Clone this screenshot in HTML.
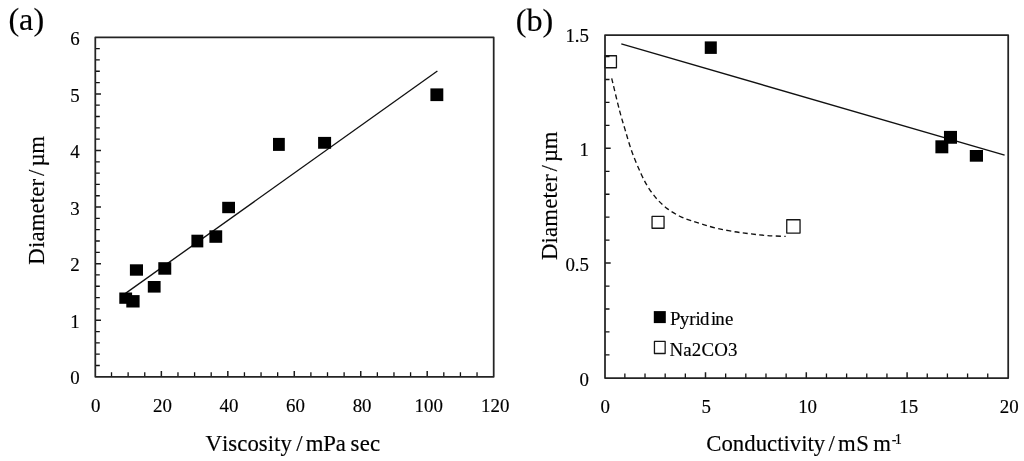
<!DOCTYPE html>
<html><head><meta charset="utf-8"><title>Figure</title>
<style>
html,body{margin:0;padding:0;background:#fff;}
body{width:1024px;height:461px;overflow:hidden;font-family:"Liberation Serif",serif;}
svg{display:block;will-change:transform;filter:grayscale(1);}
text{font-family:"Liberation Serif",serif;fill:#000;stroke:#000;stroke-width:0.16px;font-kerning:none;}
.tk{font-size:18.9px;}
.ax{font-size:22.8px;}
.pl{font-size:32.2px;}
.lg{font-size:18.9px;}
.fr{stroke:#242424;stroke-width:1.75;fill:none;stroke-linejoin:round;}
.t{stroke:#111;stroke-width:1.3;}
.T{stroke:#1c1c1c;stroke-width:1.5;}
.ln{stroke:#111;stroke-width:1.35;fill:none;}
.m{fill:#000;}
.o{fill:#fff;stroke:#161616;stroke-width:1.3;stroke-linejoin:round;}
</style></head><body>
<svg width="1024" height="461" viewBox="0 0 1024 461">
<rect x="0" y="0" width="1024" height="461" fill="#fff"/>

<!-- chart a -->
<text class="pl" x="8.4" y="30.4">(a)</text>
<path class="t" d="M111.52 376.80V372.20M128.13 376.80V372.20M144.75 376.80V372.20M177.97 376.80V372.20M194.59 376.80V372.20M211.20 376.80V372.20M244.44 376.80V372.20M261.05 376.80V372.20M277.66 376.80V372.20M310.89 376.80V372.20M327.51 376.80V372.20M344.12 376.80V372.20M377.36 376.80V372.20M393.97 376.80V372.20M410.58 376.80V372.20M443.81 376.80V372.20M460.43 376.80V372.20M477.04 376.80V372.20M95.30 365.48H99.80M95.30 354.17H99.80M95.30 342.85H99.80M95.30 331.53H99.80M95.30 308.90H99.80M95.30 297.58H99.80M95.30 286.27H99.80M95.30 274.95H99.80M95.30 252.32H99.80M95.30 241.00H99.80M95.30 229.68H99.80M95.30 218.37H99.80M95.30 195.73H99.80M95.30 184.42H99.80M95.30 173.10H99.80M95.30 161.78H99.80M95.30 139.15H99.80M95.30 127.83H99.80M95.30 116.52H99.80M95.30 105.20H99.80M95.30 82.57H99.80M95.30 71.25H99.80M95.30 59.93H99.80M95.30 48.62H99.80"/>
<path class="T" d="M161.36 376.80V371.00M227.82 376.80V371.00M294.28 376.80V371.00M360.74 376.80V371.00M427.20 376.80V371.00M95.30 320.22H101.00M95.30 263.63H101.00M95.30 207.05H101.00M95.30 150.47H101.00M95.30 93.88H101.00"/>
<rect class="fr" x="95.3" y="37.3" width="398.40" height="339.50"/>
<text class="tk" x="95.8" y="411.8" text-anchor="middle">0</text>
<text class="tk" x="162.5" y="411.8" text-anchor="middle">20</text>
<text class="tk" x="228.9" y="411.8" text-anchor="middle">40</text>
<text class="tk" x="295.4" y="411.8" text-anchor="middle">60</text>
<text class="tk" x="362.1" y="411.8" text-anchor="middle">80</text>
<text class="tk" x="428.7" y="411.8" text-anchor="middle">100</text>
<text class="tk" x="495.2" y="411.8" text-anchor="middle">120</text>
<text class="tk" x="79.6" y="384.4" text-anchor="end">0</text>
<text class="tk" x="79.6" y="327.8" text-anchor="end">1</text>
<text class="tk" x="79.6" y="271.2" text-anchor="end">2</text>
<text class="tk" x="79.6" y="214.7" text-anchor="end">3</text>
<text class="tk" x="79.6" y="158.1" text-anchor="end">4</text>
<text class="tk" x="79.6" y="101.5" text-anchor="end">5</text>
<text class="tk" x="79.6" y="44.9" text-anchor="end">6</text>
<text class="ax" transform="translate(0 450.8) scale(1 1.045)"><tspan x="205.54" letter-spacing="0.026">Viscosity</tspan><tspan x="296.25" letter-spacing="0.000">/</tspan><tspan x="305.82" letter-spacing="-0.222">mPa</tspan><tspan x="350.56" letter-spacing="0.212">sec</tspan></text>
<text class="ax" transform="translate(43.75 264.0) rotate(-90)"><tspan x="-0.66" letter-spacing="0.134">Diameter</tspan><tspan x="88.00" letter-spacing="0.000">/</tspan><tspan x="97.47" letter-spacing="-0.380">µm</tspan></text>
<path class="ln" d="M125.5 293.4L437.4 71"/>
<rect class="m" x="119.30" y="292.50" width="12.80" height="11.30"/>
<rect class="m" x="126.30" y="295.10" width="13.30" height="12.40"/>
<rect class="m" x="129.90" y="264.30" width="13.10" height="11.40"/>
<rect class="m" x="147.80" y="281.00" width="12.80" height="11.60"/>
<rect class="m" x="158.30" y="262.20" width="12.95" height="12.50"/>
<rect class="m" x="191.40" y="234.70" width="11.90" height="12.70"/>
<rect class="m" x="209.40" y="230.30" width="12.80" height="12.50"/>
<rect class="m" x="222.20" y="201.80" width="12.80" height="11.40"/>
<rect class="m" x="273.00" y="137.90" width="11.80" height="13.00"/>
<rect class="m" x="318.10" y="136.90" width="13.00" height="11.85"/>
<rect class="m" x="430.40" y="88.40" width="12.90" height="12.70"/>
<!-- chart b -->
<text class="pl" x="515.7" y="31.2">(b)</text>
<path class="ln" stroke-dasharray="5 3.3" d="M611.70 78.30C612.98 83.58 617.18 101.48 619.40 110.00C621.62 118.52 622.92 122.45 625.00 129.40C627.08 136.35 629.25 144.35 631.90 151.70C634.55 159.05 638.13 167.48 640.90 173.50C643.67 179.52 645.73 183.45 648.50 187.80C651.27 192.15 654.38 196.13 657.50 199.60C660.62 203.07 663.50 205.82 667.20 208.60C670.90 211.38 675.73 214.25 679.70 216.25C683.67 218.25 687.03 219.21 691.00 220.60C694.97 221.99 699.03 223.28 703.50 224.60C707.97 225.92 712.65 227.32 717.80 228.50C722.95 229.68 728.85 230.80 734.40 231.70C739.95 232.60 745.53 233.25 751.10 233.90C756.67 234.55 762.03 235.18 767.80 235.60C773.57 236.02 782.72 236.27 785.70 236.40"/>
<path class="ln" d="M621.3 43.9L1004.6 155.1"/>
<rect class="o" x="604.95" y="55.75" width="11.50" height="12.00"/>
<rect class="o" x="652.05" y="216.40" width="12.00" height="11.85"/>
<rect class="o" x="786.75" y="219.75" width="13.30" height="13.30"/>
<rect class="m" x="704.75" y="41.40" width="12.05" height="12.50"/>
<rect class="m" x="943.96" y="130.90" width="13.04" height="12.85"/>
<rect class="m" x="935.40" y="140.30" width="12.90" height="13.00"/>
<rect class="m" x="969.80" y="150.00" width="13.20" height="11.70"/>
<path class="t" d="M624.86 378.00V373.40M645.02 378.00V373.40M665.18 378.00V373.40M685.34 378.00V373.40M725.66 378.00V373.40M745.82 378.00V373.40M765.98 378.00V373.40M786.14 378.00V373.40M826.46 378.00V373.40M846.62 378.00V373.40M866.78 378.00V373.40M886.94 378.00V373.40M927.26 378.00V373.40M947.42 378.00V373.40M967.58 378.00V373.40M987.74 378.00V373.40M605.00 354.90H609.50M605.00 331.95H609.50M605.00 309.00H609.50M605.00 286.05H609.50M605.00 240.15H609.50M605.00 217.20H609.50M605.00 194.25H609.50M605.00 171.30H609.50M605.00 125.40H609.50M605.00 102.45H609.50M605.00 79.50H609.50M605.00 56.55H609.50"/>
<path class="T" d="M705.50 378.00V372.20M806.30 378.00V372.20M907.10 378.00V372.20M605.00 263.10H610.70M605.00 148.35H610.70"/>
<rect class="fr" x="605.0" y="35.0" width="403.20" height="343.00"/>
<text class="tk" x="605.2" y="413.3" text-anchor="middle">0</text>
<text class="tk" x="706.2" y="413.3" text-anchor="middle">5</text>
<text class="tk" x="807.6" y="413.3" text-anchor="middle">10</text>
<text class="tk" x="908.7" y="413.3" text-anchor="middle">15</text>
<text class="tk" x="1009.3" y="413.3" text-anchor="middle">20</text>
<text class="tk" x="589" y="386.0" text-anchor="end">0</text>
<text class="tk" x="589" y="270.8" text-anchor="end">0.5</text>
<text class="tk" x="589" y="155.9" text-anchor="end">1</text>
<text class="tk" x="589" y="41.9" text-anchor="end">1.5</text>
<text class="ax" transform="translate(0 450.8) scale(1 1.045)"><tspan x="706.26" letter-spacing="0.005">Conductivity</tspan><tspan x="828.50" letter-spacing="0.000">/</tspan><tspan x="838.02" letter-spacing="0.478">mS</tspan><tspan x="873.32" letter-spacing="0.000">m</tspan><tspan x="891.77" letter-spacing="-1.699" dy="-6.8" font-size="14.2">-1</tspan></text>
<text class="ax" transform="translate(556.85 259.4) rotate(-90)"><tspan x="-0.66" letter-spacing="0.134">Diameter</tspan><tspan x="88.00" letter-spacing="0.000">/</tspan><tspan x="97.47" letter-spacing="-0.380">µm</tspan></text>
<rect class="m" x="653.8" y="311.1" width="12" height="12"/>
<text class="lg" transform="translate(0 325.3) scale(1 1.035)" x="670.05 679.65 689.15 695.51 699.95 711.01 715.25 725.01">Pyridine</text>
<rect class="o" x="654.45" y="341.40" width="10.70" height="12.10"/>
<text class="lg" transform="translate(0 356.1) scale(1 1.035)"><tspan x="669.46" letter-spacing="0.188">Na2CO3</tspan></text>
</svg>
</body></html>
